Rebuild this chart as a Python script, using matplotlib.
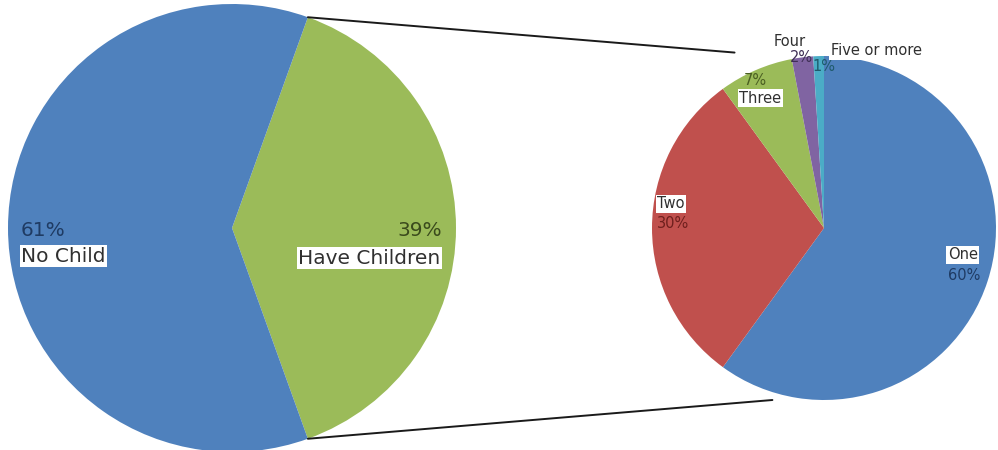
import numpy as np
import matplotlib
matplotlib.use("Agg")
import matplotlib.pyplot as plt
from matplotlib.patches import ConnectionPatch

# Data
main_labels = ["Have Children", "No Child"]
main_values = [39, 61]
main_colors = ["#9BBB59", "#4F81BD"]

sub_labels = ["One", "Two", "Three", "Four", "Five or more"]
sub_values = [60, 30, 7, 2, 1]
sub_colors = ["#4F81BD", "#C0504D", "#9BBB59", "#8064A2", "#4BACC6"]
pct_colors = ["#1F3B63", "#6E1F1D", "#4A5E22", "#3F2F55", "#1E5A6B"]

W, H = 998, 450
fig = plt.figure(figsize=(W / 100, H / 100), dpi=100)
fig.patch.set_facecolor("white")

# Left pie axes: center (232,228) px, r=224
cxL, cyL, rL = 232, 228, 224
axL = fig.add_axes([(cxL - rL) / W, (H - cyL - rL) / H, 2 * rL / W, 2 * rL / H])
# Right pie axes: center (824,228), r=172
cxR, cyR, rR = 824, 228, 172
axR = fig.add_axes([(cxR - rR) / W, (H - cyR - rR) / H, 2 * rR / W, 2 * rR / H])

start_main = 360 * main_values[0] / sum(main_values) / 2
axL.pie(main_values, colors=main_colors, startangle=start_main, counterclock=False,
        radius=1, wedgeprops=dict(linewidth=0))
axL.set_xlim(-1, 1); axL.set_ylim(-1, 1); axL.set_aspect("equal"); axL.axis("off")

axR.pie(sub_values, colors=sub_colors, startangle=90, counterclock=False,
        radius=1, wedgeprops=dict(linewidth=0))
axR.set_xlim(-1, 1); axR.set_ylim(-1, 1); axR.set_aspect("equal"); axR.axis("off")

fam = ["DejaVu Sans"]
box = dict(facecolor="white", edgecolor="none", pad=1.0)

# Left pie labels
big = dict(fontsize=14.5, family=fam)
axL.text(-0.945, -0.01, f"{main_values[1]}%", color="#1F3B63", ha="left", va="center", **big)
axL.text(-0.94, -0.125, main_labels[1], color="#303030", ha="left", va="center", bbox=box, **big)
axL.text(0.94, -0.01, f"{main_values[0]}%", color="#3A4A1C", ha="right", va="center", **big)
axL.text(0.93, -0.135, main_labels[0], color="#303030", ha="right", va="center", bbox=box, **big)

# Right pie labels
lab = dict(fontsize=10.5, family=fam)
axR.text(-0.97, 0.14, sub_labels[1], color="#303030", ha="left", va="center", bbox=box, **lab)
axR.text(-0.97, 0.025, f"{sub_values[1]}%", color=pct_colors[1], ha="left", va="center", **lab)
axR.text(0.72, -0.155, sub_labels[0], color="#303030", ha="left", va="center", bbox=box, **lab)
axR.text(0.72, -0.275, f"{sub_values[0]}%", color=pct_colors[0], ha="left", va="center", **lab)
axR.text(-0.40, 0.855, f"{sub_values[2]}%", color=pct_colors[2], ha="center", va="center", **lab)
axR.text(-0.37, 0.755, sub_labels[2], color="#303030", ha="center", va="center", bbox=box, **lab)
axR.text(-0.20, 1.085, sub_labels[3], color="#303030", ha="center", va="center", **lab)
axR.text(-0.13, 0.99, f"{sub_values[3]}%", color=pct_colors[3], ha="center", va="center", **lab)
axR.text(0.0, 0.94, f"{sub_values[4]}%", color=pct_colors[4], ha="center", va="center", **lab)
axR.text(0.04, 1.03, sub_labels[4], color="#303030", ha="left", va="center", bbox=box, **lab)

# Connector lines
theta = np.radians(start_main)
for sgn, xyB in [(1, (-0.52, 1.02)), (-1, (-0.30, -1.0))]:
    con = ConnectionPatch(xyA=(np.cos(theta), sgn * np.sin(theta)), coordsA=axL.transData,
                          xyB=xyB, coordsB=axR.transData, color="#1a1a1a", linewidth=1.4)
    fig.add_artist(con)

fig.savefig("out.png", dpi=100, facecolor="white")
